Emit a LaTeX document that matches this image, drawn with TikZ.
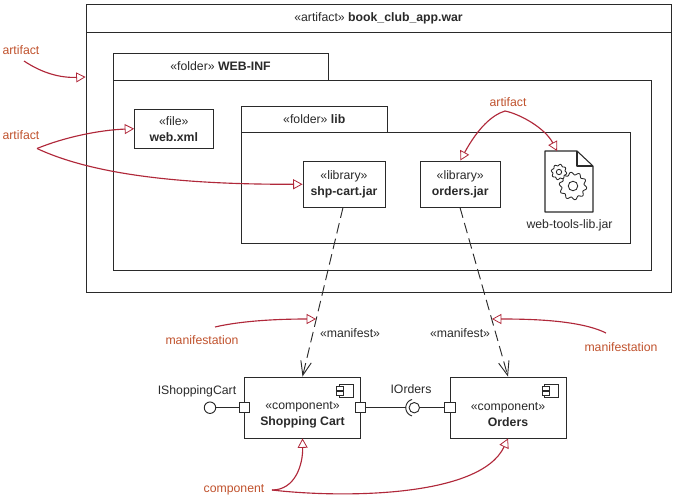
\documentclass[tikz,border=0pt]{standalone}
\usepackage{fontspec}
\setmainfont{Liberation Sans}
\usetikzlibrary{arrows.meta,calc}
\definecolor{redline}{HTML}{B0283A}
\definecolor{redtext}{HTML}{C0522D}
\definecolor{ink}{HTML}{2A2A2A}
\def\pxu{0.75pt}
\tikzset{
  x=0.75pt,y=-0.75pt,
  every node/.style={font=\fontsize{9.2pt}{11.8pt}\selectfont,text=ink,align=center,inner sep=0pt},
  boxn/.style={draw=ink,line width=0.7pt,fill=white},
  rednote/.style={text=redtext},
  redarrow/.style={draw=redline,line width=0.85pt,-{Triangle[open,length=7pt,width=7.5pt,line width=0.6pt]}},
  dep/.style={draw=ink,line width=0.7pt,dash pattern=on 8pt off 4pt,-{Straight Barb[length=10.5pt,width=8pt,line width=0.7pt]}},
  wire/.style={draw=ink,line width=0.7pt},
  portbox/.style={draw=ink,line width=0.7pt,fill=white,minimum width=7.6pt,minimum height=7.6pt},
}
\newcommand{\boxat}[7][]{% name, x1,y1,x2,y2,text
  \node[boxn,#1,minimum width={(#5-#3)*\pxu},minimum height={(#6-#4)*\pxu}] (#2) at ({(#3+#5)/2},{(#4+#6)/2}) {#7};}
\newcommand{\gearshape}[4]{%
  \draw[ink,line width=0.65pt,fill=white] plot[domain=0:360,samples=97,smooth] ({#1+(#3+#3*0.11*sin(#4*\x))*cos(\x)},{#2+(#3+#3*0.11*sin(#4*\x))*sin(\x)}) -- cycle;
  \draw[ink,line width=0.65pt] (#1,#2) circle ({#3*0.38});}
\begin{document}
\begin{tikzpicture}
\useasboundingbox (0,0) rectangle (675,500);
% outer artifact
\boxat{warbody}{86}{32}{671}{292}{}
\boxat{war}{86}{4.5}{671}{32}{«artifact» \textbf{book\_club\_app.war}}
% WEB-INF
\boxat{webinfbody}{113}{80}{651}{270}{}
\boxat{webinf}{113}{53}{328}{80}{«folder» \textbf{WEB-INF}}
\boxat{webxml}{134.5}{109}{213}{148.5}{«file»\\\textbf{web.xml}}
% lib
\boxat{libbody}{241.5}{132}{630.5}{243}{}
\boxat{lib}{241.5}{106}{387}{132}{«folder» \textbf{lib}}
\boxat{shp}{303}{161.5}{385}{207}{«library»\\\textbf{shp-cart.jar}}
\boxat{orders}{420.5}{161}{500}{207}{«library»\\\textbf{orders.jar}}
% document icon
\coordinate (doc) at (557,151);
\draw[ink,line width=0.8pt,line join=round] (545,151) -- (577,151) -- (593,166) -- (593,212) -- (545,212) -- cycle;
\draw[ink,line width=0.8pt,line join=round] (577,151) -- (577,166) -- (593,166);
\gearshape{573}{186}{12.5}{10}
\gearshape{559}{172}{7}{8}
\node (webtools) at (569.5,225) {web-tools-lib.jar};
% components
\boxat{cart}{244.5}{377}{360.5}{438}{}
\boxat{ordc}{450}{377}{566}{438}{}
\node (cartlabel) at (302.5,414.5) {«component»\\\textbf{Shopping Cart}};
\node (ordlabel) at (508,414.5) {«component»\\\textbf{Orders}};
% component icons
\foreach \ox in {339,544.5}{
  \draw[ink,line width=0.7pt,fill=white] (\ox,384.3) rectangle (\ox+14,397.3);
  \draw[ink,line width=0.7pt,fill=white] (\ox-2.5,386.7) rectangle (\ox+4.5,390);
  \draw[ink,line width=0.7pt,fill=white] (\ox-2.5,391.7) rectangle (\ox+4.5,395);
}
% ports and interfaces
\node[portbox] (pcartl) at (244.7,407.7) {};
\node[portbox] (pcartr) at (360.5,407.7) {};
\node[portbox] (pordl) at (450,407.7) {};
\node[draw=ink,line width=0.7pt,fill=white,circle,minimum size=8.6pt] (lolli) at (210,407.7) {};
\node[draw=ink,line width=0.7pt,fill=white,circle,minimum size=7.8pt] (ball) at (414.3,407.7) {};
\coordinate (sock) at (405.8,407.7);
\draw[wire] (lolli) -- (pcartl);
\draw[wire] (pcartr) -- (sock);
\draw[wire] (ball) -- (pordl);
\draw[ink,line width=0.7pt] plot[domain=105:255,samples=30] ({414.3+8.5*cos(\x)},{407.7+8.5*sin(\x)});
\node (ishop) at (197,391) {IShoppingCart};
\node (iord) at (411,389) {IOrders};
% manifest
\draw[dep] (343,207.5) -- (cart.north);
\draw[dep] (460,207.5) -- (ordc.north);
\node (m1) at (350,333.5) {«manifest»};
\node (m2) at (460,333.5) {«manifest»};
% red notes
\node[rednote] (a1) at (21,50.5) {artifact};
\node[rednote] (a2) at (21,135.5) {artifact};
\node[rednote] (a3) at (508,102) {artifact};
\node[rednote] (mf1) at (202,340) {manifestation};
\node[rednote] (mf2) at (621,347) {manifestation};
\node[rednote] (comp) at (234,490) {component};
\coordinate (a1s) at (24,61);
\coordinate (a2s) at (37,148.5);
\coordinate (a3s) at (505,111);
\coordinate (mf1s) at (215,327);
\coordinate (mf1e) at (316,319);
\coordinate (mf2s) at (606,333);
\coordinate (mf2e) at (492,319);
\coordinate (cs) at (272,490);
\draw[redarrow] (a1s) .. controls (42,73) and (60,78) .. (warbody.west |- 0,77);
\draw[redarrow] (a2s) .. controls (65,137) and (100,130) .. (webxml.west);
\draw[redarrow] (a2s) .. controls (100,178) and (200,184.5) .. (shp.west);
\draw[redarrow] (a3s) .. controls (492,115) and (478,128) .. (orders.north);
\draw[redarrow] (a3s) .. controls (520,114) and (545,128) .. (doc);
\draw[redarrow] (mf1s) .. controls (245,320) and (285,319) .. (mf1e);
\draw[redarrow] (mf2s) .. controls (580,320) and (530,319) .. (mf2e);
\draw[redarrow] (cs) .. controls (295,490) and (303,465) .. (cart.south);
\draw[redarrow] (cs) .. controls (340,498) and (480,498) .. (ordc.south);
\end{tikzpicture}
\end{document}
